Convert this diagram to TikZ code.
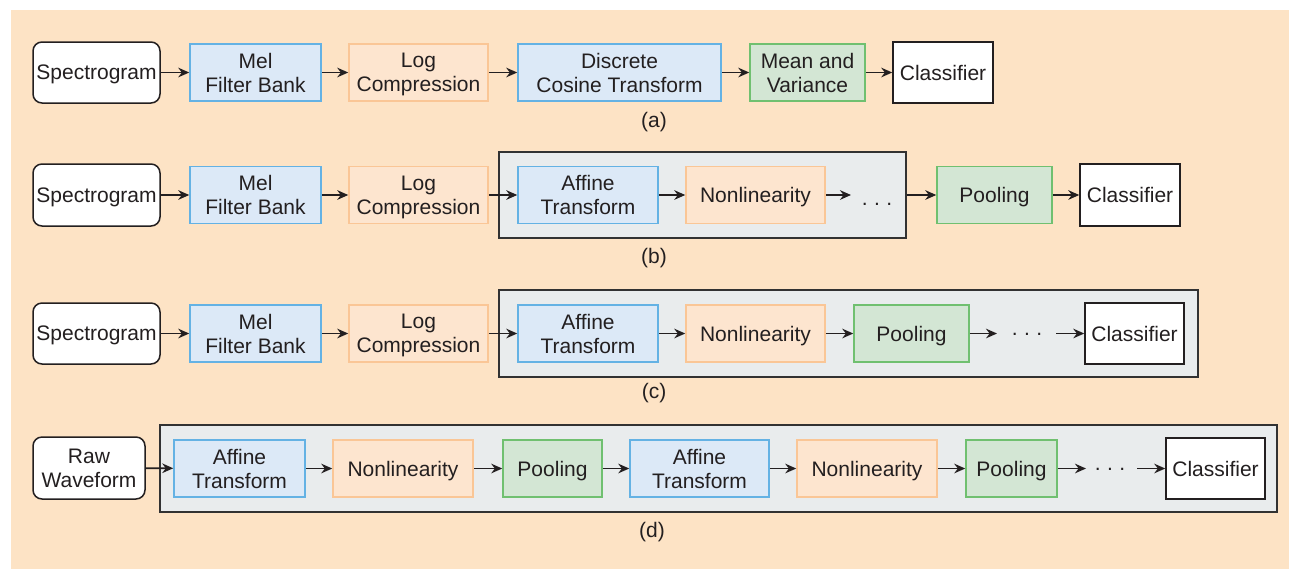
\documentclass[tikz,border=0pt]{standalone}
\usepackage{fontspec}
\setmainfont{Liberation Sans}
\usetikzlibrary{arrows.meta}
\definecolor{bgc}{RGB}{253,227,197}
\definecolor{bluef}{RGB}{220,233,247}
\definecolor{blued}{RGB}{100,178,228}
\definecolor{orf}{RGB}{253,229,207}
\definecolor{ord}{RGB}{250,198,150}
\definecolor{grf}{RGB}{211,230,212}
\definecolor{grd}{RGB}{112,192,112}
\definecolor{ctf}{RGB}{233,236,237}
\definecolor{ctd}{RGB}{50,50,50}
\definecolor{txt}{RGB}{35,31,32}
\newcommand\nodp[1]{\raisebox{0pt}[\height][0pt]{#1}}
\newcommand\mylowdots{.\hspace{3.2pt}.\hspace{3.2pt}.}
\tikzset{
  base/.style={inner sep=0pt, align=center, text=txt, font=\fontsize{10.5}{12}\selectfont, line width=0.75pt},
  inbox/.style={base, draw=txt, fill=white, rounded corners=4.5pt, minimum height=31pt},
  bluebox/.style={base, draw=blued, fill=bluef, minimum height=28.5pt},
  orbox/.style={base, draw=ord, fill=orf, minimum height=28.5pt},
  grbox/.style={base, draw=grd, fill=grf, minimum height=28.5pt},
  clsbox/.style={base, draw=txt, fill=white, minimum height=30.5pt, minimum width=50pt},
  cont/.style={draw=ctd, fill=ctf, line width=0.9pt, inner sep=0pt},
  lbl/.style={base},
  dotn/.style={base, anchor=base},
  arr/.style={-{Stealth[length=5.5pt,width=4.8pt]}, line width=0.8pt, draw=txt},
}
\begin{document}
\begin{tikzpicture}[x=0.5pt,y=-0.5pt]
\useasboundingbox (0,0) rectangle (1289,569);
\fill[bgc] (11,10) rectangle (1289,569);

% ---------- Row (a) ----------
\node[inbox, minimum width=63.5pt, minimum height=30.5pt] (specA) at (96.5,72.5) {\nodp{Spectrogram}};
\node[bluebox, minimum width=65.5pt] (melA) at (255.5,72.5) {Mel\\Filter Bank};
\node[orbox, minimum width=69.5pt] (logA) at (418.5,72.5) {Log\\\nodp{Compression}};
\node[bluebox, minimum width=101.5pt] (dctA) at (619.5,72.5) {Discrete\\Cosine Transform};
\node[grbox, minimum width=57.5pt] (mvA) at (807.5,72.5) {Mean and\\Variance};
\node[clsbox] (clsA) at (943,72.5) {Classifier};
\node[lbl] (la) at (654,122) {(a)};
\draw[arr] (specA) -- (melA);
\draw[arr] (melA) -- (logA);
\draw[arr] (logA) -- (dctA);
\draw[arr] (dctA) -- (mvA);
\draw[arr] (mvA) -- (clsA);

% ---------- Row (b) ----------
\node[cont, minimum width=203.5pt, minimum height=43pt] (contB) at (702.5,195) {};
\node[inbox, minimum width=63.5pt] (specB) at (96.5,195) {\nodp{Spectrogram}};
\node[bluebox, minimum width=65.5pt] (melB) at (255.5,195) {Mel\\Filter Bank};
\node[orbox, minimum width=69.5pt] (logB) at (418.5,195) {Log\\\nodp{Compression}};
\node[bluebox, minimum width=70pt] (affB) at (588,195) {Affine\\Transform};
\node[orbox, minimum width=69.5pt] (nonB) at (755.5,195) {\nodp{Nonlinearity}};
\coordinate (eB) at (851,195);
\node[dotn] (dotsB) at (877,205) {\mylowdots};
\node[grbox, minimum width=57.5pt] (poolB) at (994.5,195) {\nodp{Pooling}};
\node[clsbox, minimum height=31pt] (clsB) at (1130,195) {Classifier};
\node[lbl] (lb) at (654,258) {(b)};
\draw[arr] (specB) -- (melB);
\draw[arr] (melB) -- (logB);
\draw[arr] (logB) -- (affB);
\draw[arr] (affB) -- (nonB);
\draw[arr] (nonB) -- (eB);
\draw[arr] (contB.east) -- (poolB);
\draw[arr] (poolB) -- (clsB);

% ---------- Row (c) ----------
\node[cont, minimum width=349.5pt, minimum height=43.5pt] (contC) at (848.5,333.5) {};
\node[inbox, minimum width=63.5pt, minimum height=30.5pt] (specC) at (96.5,333.5) {\nodp{Spectrogram}};
\node[bluebox, minimum width=65.5pt] (melC) at (255.5,333.5) {Mel\\Filter Bank};
\node[orbox, minimum width=69.5pt] (logC) at (418.5,333.5) {Log\\\nodp{Compression}};
\node[bluebox, minimum width=70pt] (affC) at (588,333.5) {Affine\\Transform};
\node[orbox, minimum width=69.5pt] (nonC) at (755.5,333.5) {\nodp{Nonlinearity}};
\node[grbox, minimum width=57.5pt] (poolC) at (911.5,333.5) {\nodp{Pooling}};
\coordinate (eC) at (997,333.5);
\node[dotn] (dotsC) at (1027,335) {\mylowdots};
\coordinate (sC) at (1056,333.5);
\node[clsbox, minimum width=49.5pt] (clsC) at (1134.5,333.5) {Classifier};
\node[lbl] (lc) at (654,393) {(c)};
\draw[arr] (specC) -- (melC);
\draw[arr] (melC) -- (logC);
\draw[arr] (logC) -- (affC);
\draw[arr] (affC) -- (nonC);
\draw[arr] (nonC) -- (poolC);
\draw[arr] (poolC) -- (eC);
\draw[arr] (sC) -- (clsC);

% ---------- Row (d) ----------
\node[cont, minimum width=558.5pt, minimum height=43.5pt] (contD) at (718.5,468.5) {};
\node[inbox, minimum width=56pt] (raw) at (89,468) {Raw\\Waveform};
\node[bluebox, minimum width=65.5pt] (aff1) at (239.5,468.5) {Affine\\Transform};
\node[orbox, minimum width=70pt] (non1) at (403,468.5) {\nodp{Nonlinearity}};
\node[grbox, minimum width=49.5pt] (pool1) at (552.5,468.5) {\nodp{Pooling}};
\node[bluebox, minimum width=69.5pt] (aff2) at (699.5,468.5) {Affine\\Transform};
\node[orbox, minimum width=70pt] (non2) at (867,468.5) {\nodp{Nonlinearity}};
\node[grbox, minimum width=45.5pt] (pool2) at (1011.5,468.5) {\nodp{Pooling}};
\coordinate (eD) at (1086,468.5);
\node[dotn] (dotsD) at (1110,470) {\mylowdots};
\coordinate (sD) at (1137,468.5);
\node[clsbox, minimum width=49.5pt] (clsD) at (1215.5,468.5) {Classifier};
\node[lbl] (ld) at (652,532) {(d)};
\draw[arr] (raw) -- (aff1);
\draw[arr] (aff1) -- (non1);
\draw[arr] (non1) -- (pool1);
\draw[arr] (pool1) -- (aff2);
\draw[arr] (aff2) -- (non2);
\draw[arr] (non2) -- (pool2);
\draw[arr] (pool2) -- (eD);
\draw[arr] (sD) -- (clsD);
\end{tikzpicture}
\end{document}
